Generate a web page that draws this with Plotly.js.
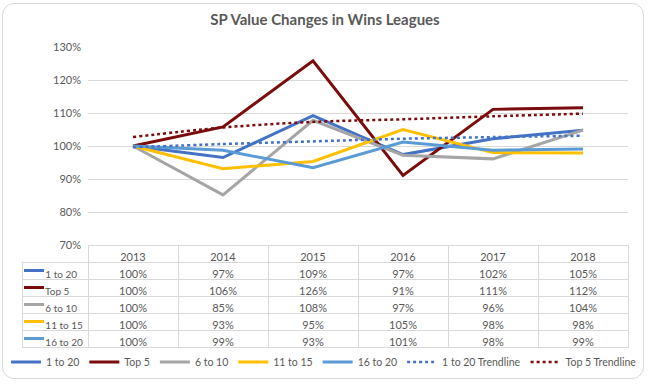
<!DOCTYPE html>
<html>
<head>
<meta charset="utf-8">
<script src="https://cdn.plot.ly/plotly-3.0.1.min.js"></script>
<style>
  html, body { margin: 0; padding: 0; background: #fff; }
  #wrap { position: relative; width: 650px; height: 386px; }
  #chart { position: absolute; left: 0; top: 0; width: 650px; height: 386px; }
  #card { position: absolute; left: 2px; top: 3px; width: 640px; height: 374px;
          border: 1px solid #d9d9d9; border-radius: 12px; pointer-events: none; }
</style>
</head>
<body>
<div id="wrap"><div id="chart"></div><div id="card"></div></div>
<script>
// ---- data ----
const years = ['2013', '2014', '2015', '2016', '2017', '2018'];
const seriesNames = ['1 to 20', 'Top 5', '6 to 10', '11 to 15', '16 to 20'];
const s1to20   = [1.000, 0.965, 1.092, 0.974, 1.022, 1.048];
const sTop5    = [1.000, 1.058, 1.258, 0.911, 1.111, 1.116];
const s6to10   = [1.000, 0.852, 1.078, 0.972, 0.961, 1.048];
const s11to15  = [1.000, 0.931, 0.953, 1.050, 0.980, 0.979];
const s16to20  = [1.000, 0.987, 0.934, 1.012, 0.987, 0.991];
const trend1to20 = [0.996, 1.006, 1.014, 1.022, 1.027, 1.031];
const trendTop5  = [1.027, 1.056, 1.073, 1.081, 1.090, 1.098];
// table labels (rounded values as shown in the data table)
const tbl1to20  = ['100%', '97%', '109%', '97%', '102%', '105%'];
const tblTop5   = ['100%', '106%', '126%', '91%', '111%', '112%'];
const tbl6to10  = ['100%', '85%', '108%', '97%', '96%', '104%'];
const tbl11to15 = ['100%', '93%', '95%', '105%', '98%', '98%'];
const tbl16to20 = ['100%', '99%', '93%', '101%', '98%', '99%'];
const yTickVals = [0.7, 0.8, 0.9, 1.0, 1.1, 1.2, 1.3];
const yTickText = ['70%', '80%', '90%', '100%', '110%', '120%', '130%'];

// ---- styles ----
const colors = ['#4472C4', '#7B0C0C', '#A5A5A5', '#FFC000', '#5B9BD5'];
const FONT = 'Lato, "Open Sans", sans-serif';
const TXT = '#595959';
const GRID = '#d9d9d9';

// layout geometry (pixels)
const W = 650, H = 386;
const M = { l: 0, r: 0, t: 47, b: 38, autoexpand: false };
const areaW = W - M.l - M.r, areaH = H - M.t - M.b;
const tableLeftPx = 22, tableRightPx = 628;
const plotBottomPx = 245;           // y pixel of 70% gridline / table top
const plotLeftPx = 88;              // x pixel where categories start
const legendPx = 362;               // y pixel of legend centre
const px2x = (p) => (p - M.l) / areaW;
const px2y = (p) => (H - M.b - p) / areaH;
const rowH = 17;

const seriesData = [s1to20, sTop5, s6to10, s11to15, s16to20];
const traces = seriesData.map((vals, i) => ({
  type: 'scatter', mode: 'lines', x: years, y: vals, name: seriesNames[i],
  line: { color: colors[i], width: 3 }, hoverinfo: 'skip'
}));
traces.push({
  type: 'scatter', mode: 'lines', x: years, y: trend1to20, name: '1 to 20 Trendline',
  line: { color: colors[0], width: 2.5, dash: 'dot', shape: 'spline' }, hoverinfo: 'skip'
});
traces.push({
  type: 'scatter', mode: 'lines', x: years, y: trendTop5, name: 'Top 5 Trendline',
  line: { color: colors[1], width: 2.5, dash: 'dot', shape: 'spline' }, hoverinfo: 'skip'
});

const NB = '\u00a0';
const firstCol = seriesNames.map(n => NB.repeat(6) + n.split(' ').join(NB));
const tblRows = [tbl1to20, tblTop5, tbl6to10, tbl11to15, tbl16to20];
const cellCols = [firstCol].concat(years.map((y, j) => tblRows.map(r => r[j])));
const colW = (tableRightPx - plotLeftPx) / years.length;

traces.push({
  type: 'table',
  domain: { x: [px2x(tableLeftPx), px2x(tableRightPx)], y: [0, px2y(plotBottomPx)] },
  columnwidth: [plotLeftPx - tableLeftPx].concat(years.map(() => colW)),
  header: {
    values: [''].concat(years),
    height: rowH,
    align: 'center',
    fill: { color: 'rgba(255,255,255,0)' },
    line: { color: ['rgba(0,0,0,0)'].concat(years.map(() => GRID)), width: 1 },
    font: { family: FONT, size: 11, color: TXT }
  },
  cells: {
    values: cellCols,
    height: rowH,
    align: ['left', 'center', 'center', 'center', 'center', 'center', 'center'],
    fill: { color: 'rgba(255,255,255,0)' },
    line: { color: GRID, width: 1 },
    font: { family: FONT, size: [10, 11, 11, 11, 11, 11, 11], color: TXT }
  },
  showlegend: false
});

// legend keys inside the table's first column
const keyShapes = seriesNames.map((n, i) => {
  const yp = px2y(plotBottomPx + rowH * (i + 1.5));
  return {
    type: 'line', xref: 'paper', yref: 'paper',
    x0: px2x(24), x1: px2x(44), y0: yp, y1: yp,
    line: { color: colors[i], width: 3 }, layer: 'above'
  };
});

const layout = {
  width: W, height: H,
  margin: M,
  paper_bgcolor: 'rgba(0,0,0,0)', plot_bgcolor: 'rgba(0,0,0,0)',
  font: { family: FONT, color: TXT, size: 11 },
  title: {
    text: '<b>SP Value Changes in Wins Leagues</b>',
    font: { family: FONT, size: 15, color: TXT },
    x: 0.5, xanchor: 'center', y: 0.95, yanchor: 'middle'
  },
  xaxis: {
    domain: [px2x(plotLeftPx), px2x(tableRightPx)], type: 'category', range: [-0.5, 5.5],
    showticklabels: false, showgrid: false, zeroline: false, showline: false, ticks: ''
  },
  yaxis: {
    domain: [px2y(plotBottomPx), 1], range: [0.7, 1.3],
    tickvals: yTickVals, ticktext: yTickText,
    showgrid: true, gridcolor: GRID, gridwidth: 1, zeroline: false, showline: false,
    ticks: '', ticklabelstandoff: 6, tickfont: { family: FONT, size: 11, color: TXT }
  },
  shapes: keyShapes,
  showlegend: true,
  legend: {
    orientation: 'h',
    x: px2x(324), xanchor: 'center',
    y: px2y(legendPx), yanchor: 'middle',
    font: { family: FONT, size: 10.5, color: TXT },
    itemwidth: 30, traceorder: 'normal', tracegroupgap: 0
  }
};

Plotly.newPlot('chart', traces, layout, { staticPlot: true, displayModeBar: false });
</script>
</body>
</html>
